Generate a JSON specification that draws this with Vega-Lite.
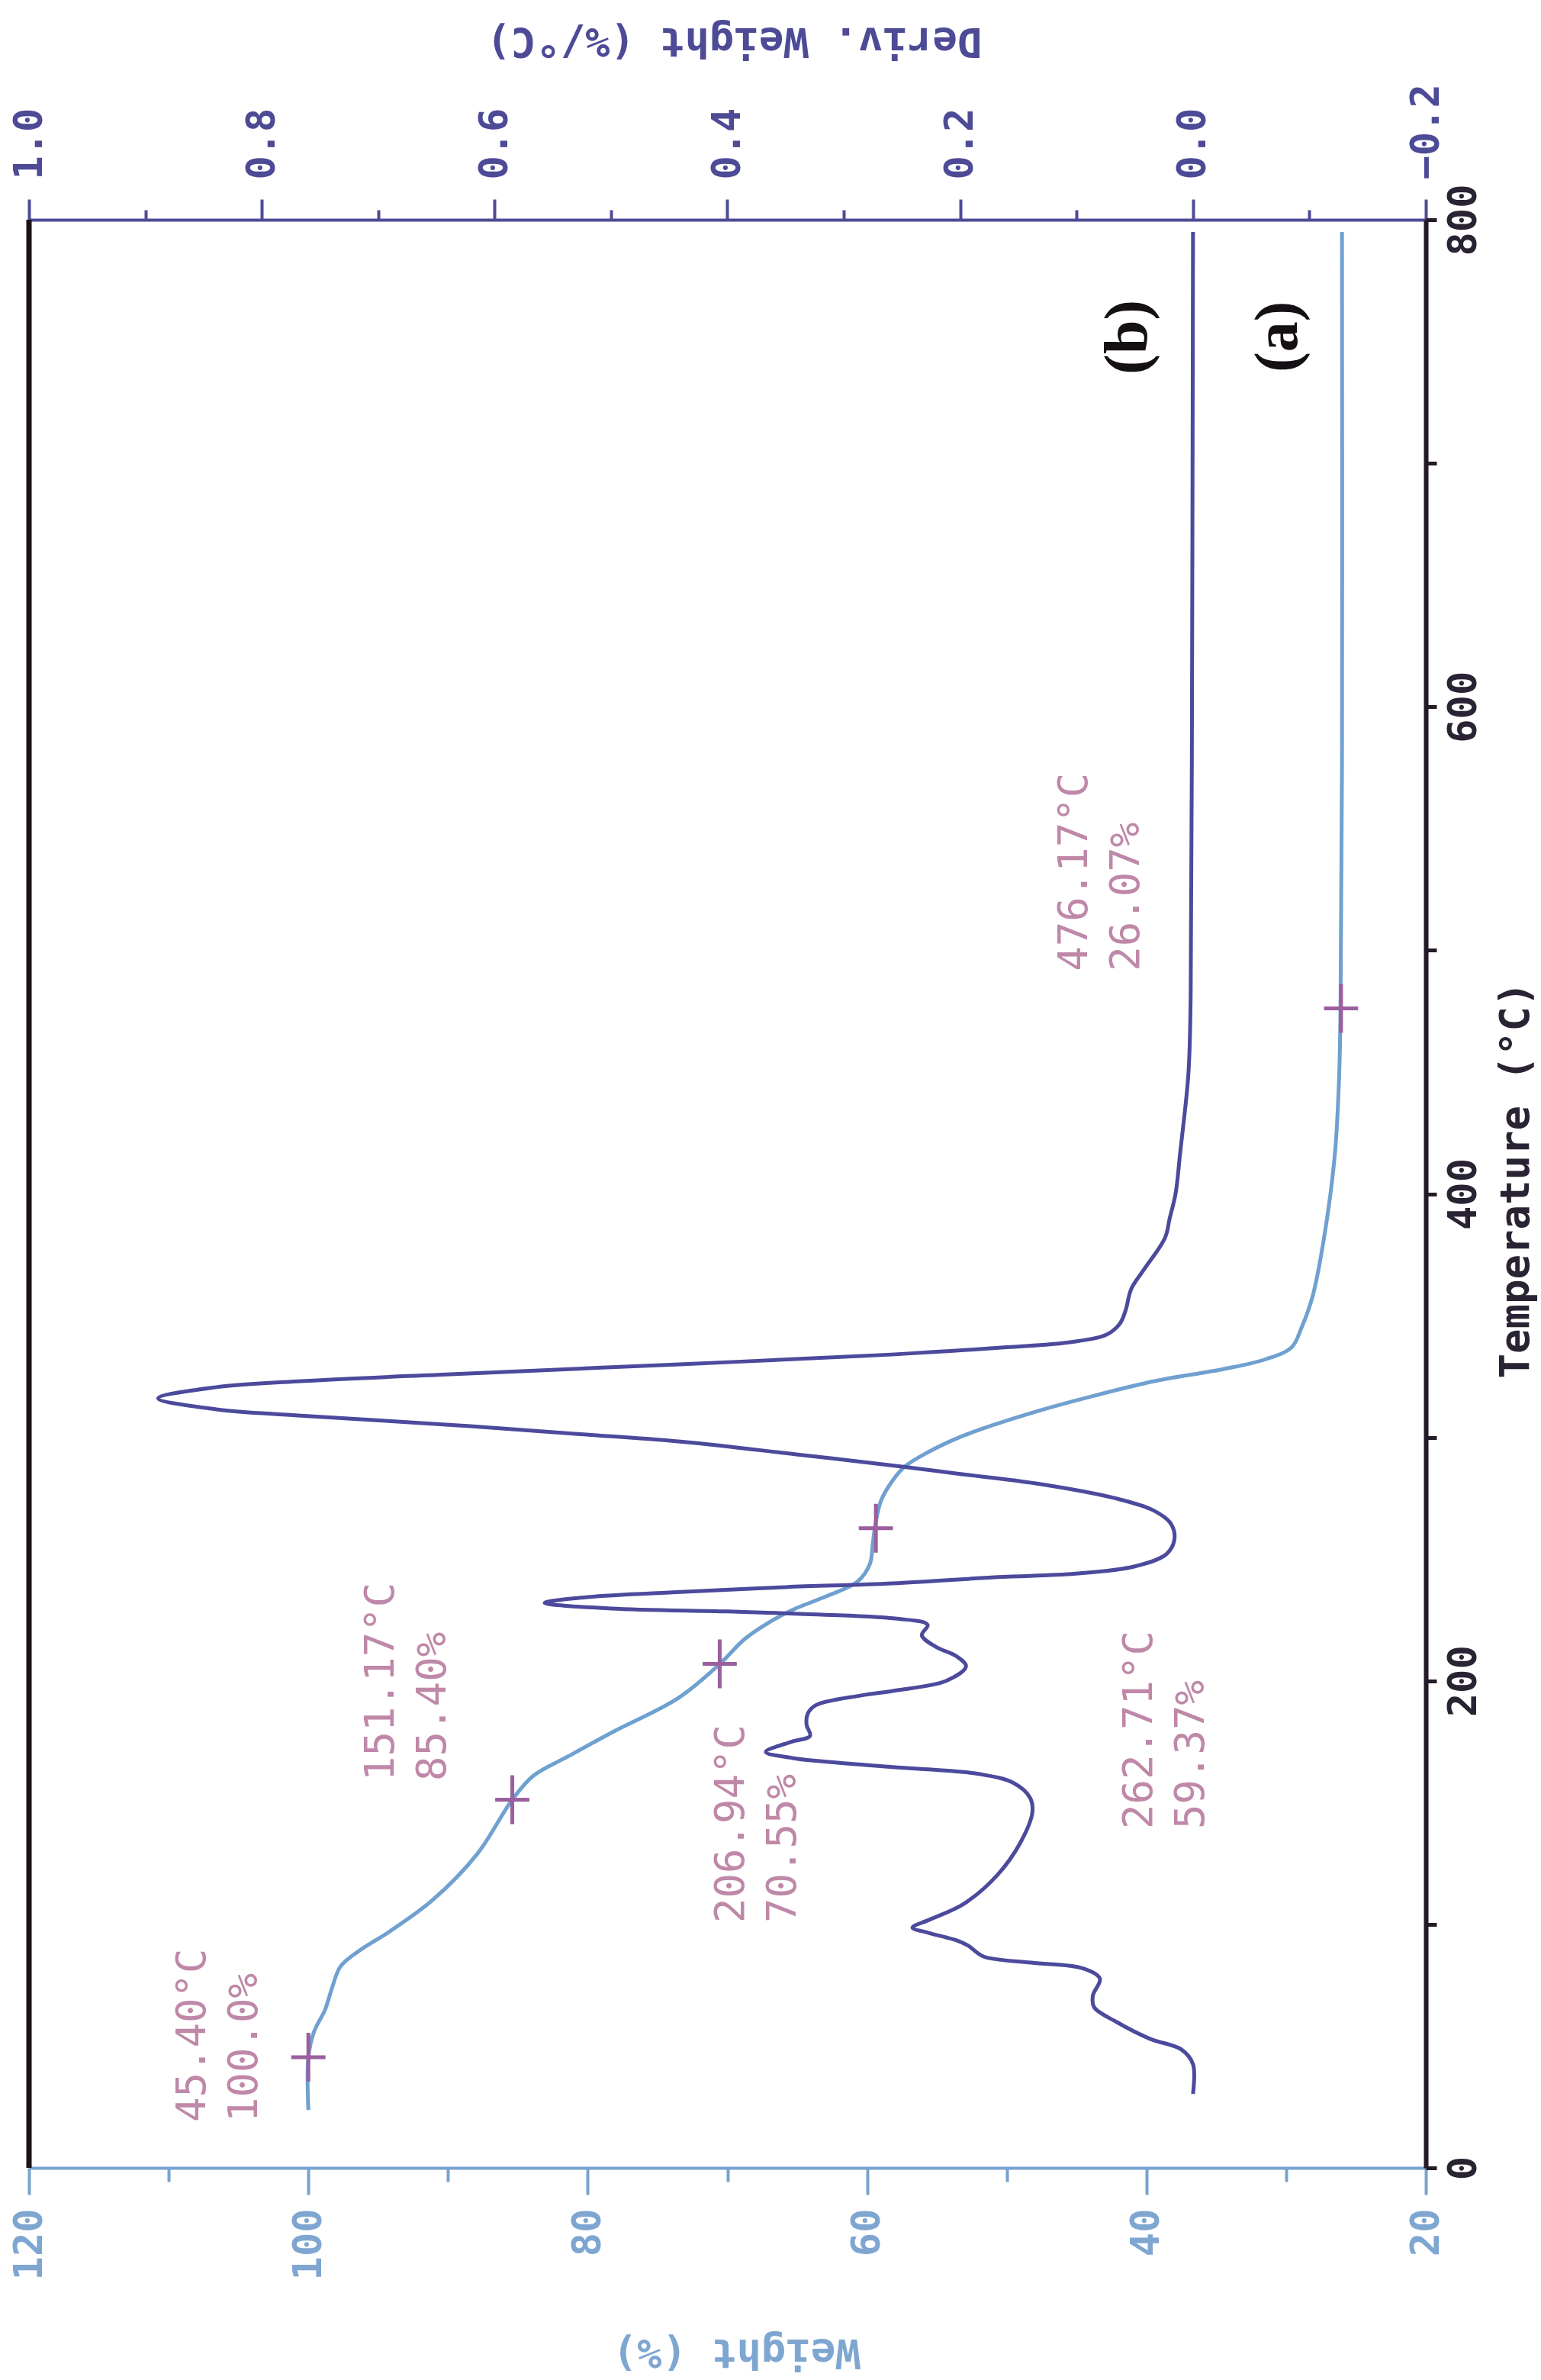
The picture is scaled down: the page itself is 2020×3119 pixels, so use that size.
{
  "$schema": "https://vega.github.io/schema/vega-lite/v6.json",
  "width": 1831,
  "height": 2553,
  "autosize": {"type": "none"},
  "padding": {"left": 38, "top": 288, "right": 151, "bottom": 278},
  "background": "white",
  "config": {"view": {"stroke": null}, "axis": {"grid": false}},
  "datasets": {
    "deriv": [
      {"T":30.4,"D":0.0},{"T":42.6,"D":0.0},{"T":48.6,"D":0.01},{"T":53,"D":0.037},{"T":60,"D":0.066},{"T":66,"D":0.085},{"T":70.8,"D":0.086},{"T":77.7,"D":0.08},{"T":82,"D":0.095},{"T":84.3,"D":0.139},{"T":86.8,"D":0.18},{"T":91.2,"D":0.193},{"T":93.4,"D":0.203},{"T":96.5,"D":0.227},{"T":98.7,"D":0.241},{"T":101.8,"D":0.227},{"T":108.4,"D":0.197},{"T":120.3,"D":0.168},{"T":133.8,"D":0.148},{"T":146,"D":0.138},{"T":152,"D":0.14},{"T":158,"D":0.154},{"T":161.7,"D":0.183},{"T":164.5,"D":0.256},{"T":167,"D":0.32},{"T":168.3,"D":0.344},{"T":170.8,"D":0.367},{"T":175,"D":0.345},{"T":177.4,"D":0.329},{"T":182,"D":0.332},{"T":186.5,"D":0.331},{"T":190,"D":0.324},{"T":194,"D":0.285},{"T":196,"D":0.256},{"T":200,"D":0.212},{"T":206,"D":0.195},{"T":210,"D":0.203},{"T":214,"D":0.221},{"T":218.7,"D":0.233},{"T":223,"D":0.228},{"T":225.6,"D":0.256},{"T":227.5,"D":0.338},{"T":228.5,"D":0.4},{"T":229.7,"D":0.5},{"T":232,"D":0.557},{"T":234.4,"D":0.52},{"T":236.5,"D":0.44},{"T":238.5,"D":0.35},{"T":240,"D":0.258},{"T":242.6,"D":0.168},{"T":244,"D":0.101},{"T":247,"D":0.05},{"T":252,"D":0.023},{"T":258,"D":0.016},{"T":264.5,"D":0.019},{"T":270,"D":0.034},{"T":275,"D":0.067},{"T":281,"D":0.134},{"T":285,"D":0.201},{"T":288,"D":0.25},{"T":293,"D":0.341},{"T":298,"D":0.435},{"T":301,"D":0.517},{"T":305,"D":0.634},{"T":309,"D":0.769},{"T":311.5,"D":0.839},{"T":316,"D":0.889},{"T":320.6,"D":0.839},{"T":323,"D":0.769},{"T":326,"D":0.634},{"T":330,"D":0.441},{"T":334,"D":0.259},{"T":337,"D":0.16},{"T":339,"D":0.107},{"T":342,"D":0.075},{"T":346.6,"D":0.063},{"T":352,"D":0.058},{"T":361,"D":0.053},{"T":369,"D":0.042},{"T":382,"D":0.024},{"T":390,"D":0.02},{"T":400,"D":0.015},{"T":417,"D":0.011},{"T":449,"D":0.004},{"T":481,"D":0.002},{"T":577,"D":0.001},{"T":795,"D":0.0}
    ],
    "weight": [
      {"T":23.8,"W":100.0},{"T":45.4,"W":100.0},{"T":55.8,"W":99.6},{"T":65,"W":98.8},{"T":74,"W":98.3},{"T":82.7,"W":97.7},{"T":89,"W":96.4},{"T":97,"W":94.2},{"T":110,"W":91.1},{"T":129,"W":87.9},{"T":151.2,"W":85.4},{"T":161,"W":83.9},{"T":169,"W":81.4},{"T":179,"W":78.2},{"T":193,"W":73.5},{"T":206.9,"W":70.55},{"T":217,"W":68.8},{"T":223,"W":67.3},{"T":229,"W":65.4},{"T":235,"W":62.8},{"T":240.7,"W":60.7},{"T":248,"W":59.8},{"T":256,"W":59.6},{"T":264.5,"W":59.4},{"T":274,"W":59.0},{"T":282,"W":58.2},{"T":288,"W":57.3},{"T":294,"W":55.6},{"T":300,"W":53.4},{"T":305,"W":51.0},{"T":310.6,"W":47.9},{"T":317,"W":43.8},{"T":323,"W":39.5},{"T":328,"W":34.5},{"T":332,"W":31.5},{"T":337,"W":29.6},{"T":345,"W":28.9},{"T":358,"W":28.1},{"T":385,"W":27.2},{"T":417,"W":26.5},{"T":449,"W":26.2},{"T":481,"W":26.1},{"T":577,"W":26.0},{"T":795,"W":26.0}
    ],
    "markers": [
      {"T":45.4,"W":100.0},{"T":151.17,"W":85.4},{"T":206.94,"W":70.55},{"T":262.71,"W":59.37},{"T":476.17,"W":26.07}
    ],
    "notes": [
      {"T":18.8,"W":109.73,"label":"45.40°C\n100.0%"},
      {"T":158.9,"W":96.24,"label":"151.17°C\n85.40%"},
      {"T":100.6,"W":71.17,"label":"206.94°C\n70.55%"},
      {"T":139.1,"W":41.96,"label":"262.71°C\n59.37%"},
      {"T":491.4,"W":46.6,"label":"476.17°C\n26.07%"}
    ],
    "tags": [
      {"T":736.5,"W":39.99,"label":"(b)"},
      {"T":737.4,"W":29.23,"label":"(a)"}
    ],
    "frame": [{"T":0,"T2":800}]
  },
  "encoding": {
    "y": {
      "field": "T", "type": "quantitative",
      "scale": {"domain": [0, 800], "nice": false, "zero": false},
      "axis": {
        "orient": "right",
        "values": [0,100,200,300,400,500,600,700,800],
        "labelExpr": "datum.value % 200 == 0 ? datum.label : ''",
        "domainColor": "#231b25", "domainWidth": 6,
        "tickColor": "#231b25", "tickWidth": 5, "tickSize": 14,
        "labelAngle": 270, "labelAlign": "center", "labelBaseline": "top", "labelPadding": 10,
        "labelFont": "DejaVu Sans Mono", "labelFontWeight": "bold", "labelFontSize": 52, "labelColor": "#2a2333",
        "labelOverlap": false, "labelBound": false, "labelFlush": false,
        "title": "Temperature (°C)",
        "titleFont": "DejaVu Sans Mono", "titleFontWeight": "bold", "titleFontSize": 54, "titleColor": "#2a2333",
        "titleAngle": 270, "titleX": 118, "titleY": 1258, "titleAlign": "center", "titleBaseline": "middle"
      }
    }
  },
  "layer": [
    {
      "data": {"name": "weight"},
      "mark": {"type": "line", "color": "#6fa0d0", "strokeWidth": 5, "interpolate": "catmull-rom"},
      "encoding": {
        "x": {
          "field": "W", "type": "quantitative",
          "scale": {"domain": [20, 120], "reverse": true, "nice": false, "zero": false},
          "axis": {
            "orient": "bottom",
            "values": [120, 100, 80, 60, 40, 20],
            "domainColor": "#78a2cf", "domainWidth": 4,
            "tickColor": "#78a2cf", "tickWidth": 4, "tickSize": 35,
            "labelAngle": 270, "labelAlign": "right", "labelBaseline": "middle", "labelPadding": 18,
            "labelFont": "DejaVu Sans Mono", "labelFontWeight": "bold", "labelFontSize": 52, "labelColor": "#7ea6d1",
            "labelOverlap": false, "labelBound": false, "labelFlush": false,
            "title": "Weight (%)",
            "titleFont": "DejaVu Sans Mono", "titleFontWeight": "bold", "titleFontSize": 54, "titleColor": "#7ea6d1",
            "titleAngle": 180, "titleX": 927, "titleY": 240, "titleAlign": "center", "titleBaseline": "middle"
          }
        },
        "order": {"field": "T", "type": "quantitative"}
      }
    },
    {
      "data": {"name": "deriv"},
      "mark": {"type": "line", "color": "#4b4a9c", "strokeWidth": 5, "interpolate": "catmull-rom"},
      "encoding": {
        "x": {
          "field": "D", "type": "quantitative",
          "scale": {"domain": [-0.2, 1.0], "reverse": true, "nice": false, "zero": false},
          "axis": {
            "orient": "top",
            "values": [1.0, 0.8, 0.6, 0.4, 0.2, 0.0, -0.2],
            "format": ".1f",
            "domainColor": "#4d4b96", "domainWidth": 4,
            "tickColor": "#4d4b96", "tickWidth": 4, "tickSize": 27,
            "labelAngle": 270, "labelAlign": "left", "labelBaseline": "middle", "labelPadding": 26,
            "labelFont": "DejaVu Sans Mono", "labelFontWeight": "bold", "labelFontSize": 52, "labelColor": "#4d4b96",
            "labelOverlap": false, "labelBound": false, "labelFlush": false,
            "title": "Deriv. Weight (%/°C)",
            "titleFont": "DejaVu Sans Mono", "titleFontWeight": "bold", "titleFontSize": 54, "titleColor": "#4d4b96",
            "titleAngle": 180, "titleX": 924, "titleY": -236, "titleAlign": "center", "titleBaseline": "middle"
          }
        },
        "order": {"field": "T", "type": "quantitative"}
      }
    },
    {
      "data": {"name": "deriv"},
      "mark": {"type": "line", "opacity": 0},
      "encoding": {
        "x": {
          "field": "D", "type": "quantitative",
          "scale": {"domain": [-0.2, 1.0], "reverse": true, "nice": false, "zero": false},
          "axis": {
            "orient": "top",
            "values": [0.9, 0.7, 0.5, 0.3, 0.1, -0.1],
            "domain": false, "labels": false, "title": null,
            "tickColor": "#4d4b96", "tickWidth": 4, "tickSize": 13
          }
        },
        "order": {"field": "T", "type": "quantitative"}
      }
    },
    {
      "data": {"name": "weight"},
      "mark": {"type": "line", "opacity": 0},
      "encoding": {
        "x": {
          "field": "W", "type": "quantitative",
          "scale": {"domain": [20, 120], "reverse": true, "nice": false, "zero": false},
          "axis": {
            "orient": "bottom",
            "values": [110, 90, 70, 50, 30],
            "domain": false, "labels": false, "title": null,
            "tickColor": "#78a2cf", "tickWidth": 4, "tickSize": 18
          }
        },
        "order": {"field": "T", "type": "quantitative"}
      }
    },
    {
      "layer": [
        {
          "data": {"name": "frame"},
          "mark": {"type": "rule", "color": "#1b1416", "strokeWidth": 7},
          "encoding": {
            "x": {"datum": 120, "type": "quantitative", "scale": {"domain": [20, 120], "reverse": true, "nice": false, "zero": false}, "axis": null},
            "y2": {"field": "T2"}
          }
        },
        {
          "data": {"name": "markers"},
          "mark": {"type": "point", "shape": "M-0.7,0H0.7M0,-1V1", "filled": false, "stroke": "#9a5f9e", "strokeWidth": 5, "size": 4096, "opacity": 1},
          "encoding": {
            "x": {"field": "W", "type": "quantitative", "scale": {"domain": [20, 120], "reverse": true, "nice": false, "zero": false}, "axis": null}
          }
        },
        {
          "data": {"name": "notes"},
          "mark": {"type": "text", "angle": 270, "align": "left", "baseline": "top", "lineBreak": "\n", "lineHeight": 68, "font": "DejaVu Sans Mono", "fontSize": 54, "color": "#bf88a8"},
          "encoding": {
            "x": {"field": "W", "type": "quantitative", "scale": {"domain": [20, 120], "reverse": true, "nice": false, "zero": false}, "axis": null},
            "text": {"field": "label"}
          }
        },
        {
          "data": {"name": "tags"},
          "mark": {"type": "text", "angle": 270, "align": "left", "baseline": "alphabetic", "font": "Liberation Serif", "fontWeight": "bold", "fontSize": 80, "color": "#141014"},
          "encoding": {
            "x": {"field": "W", "type": "quantitative", "scale": {"domain": [20, 120], "reverse": true, "nice": false, "zero": false}, "axis": null},
            "text": {"field": "label"}
          }
        }
      ]
    }
  ],
  "resolve": {"scale": {"x": "independent"}, "axis": {"x": "independent"}}
}
